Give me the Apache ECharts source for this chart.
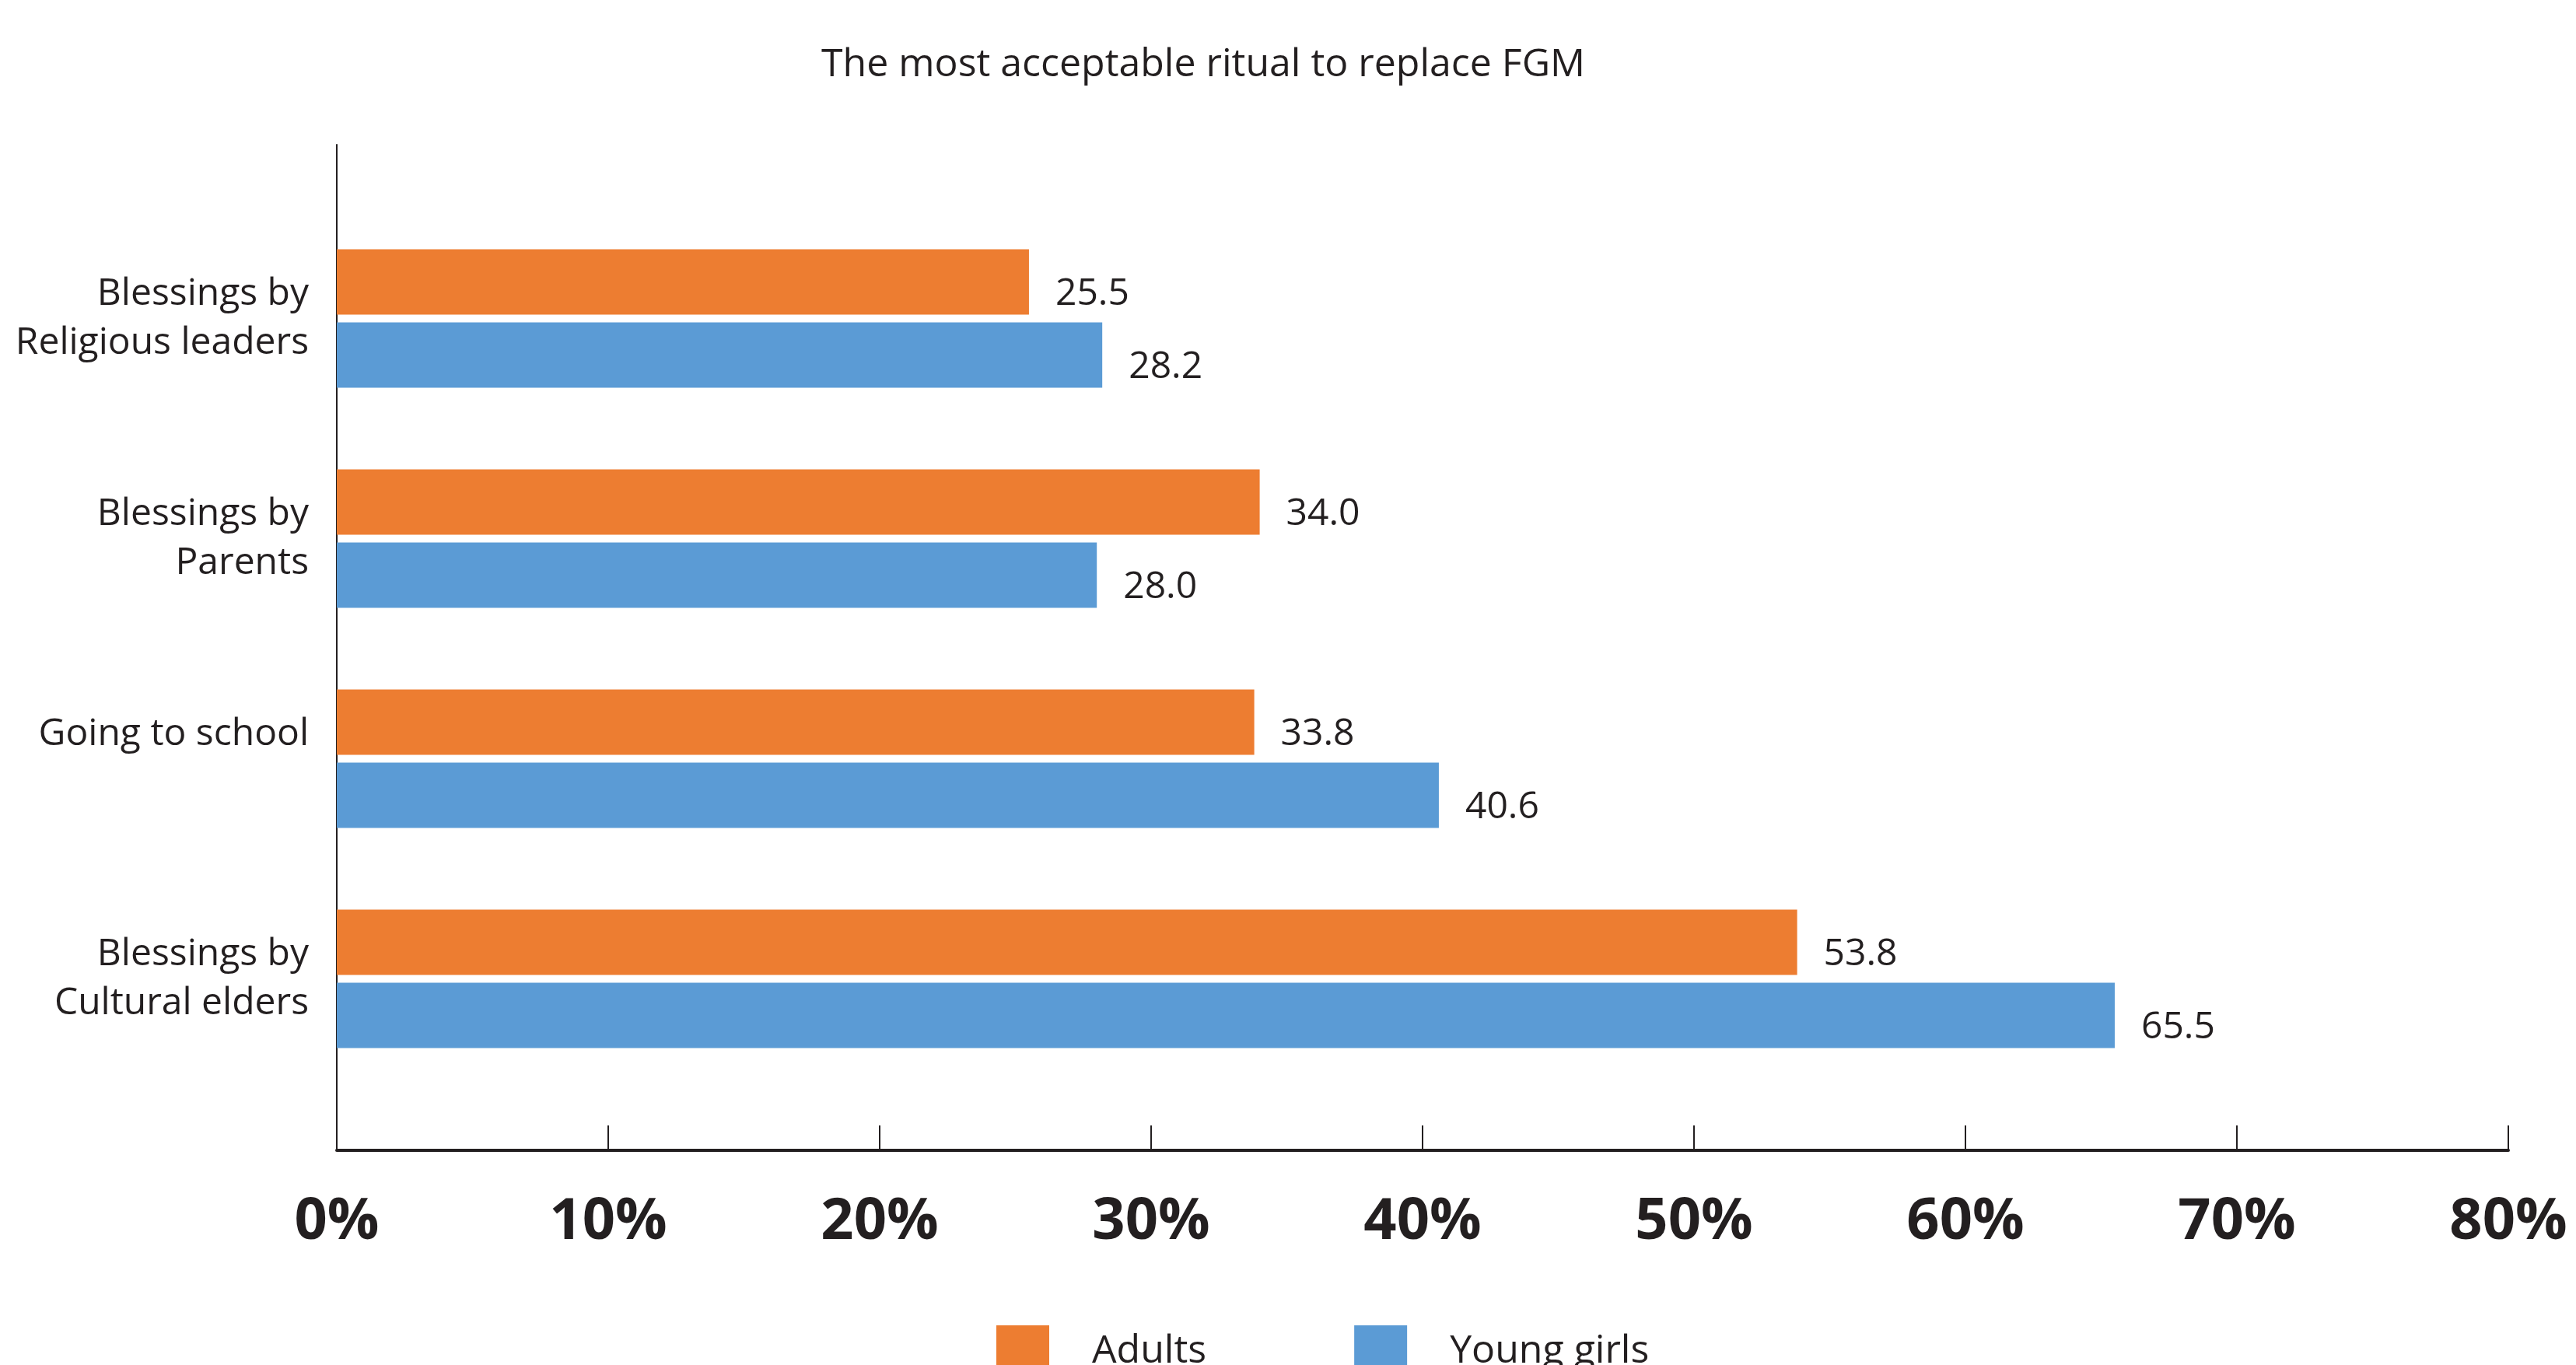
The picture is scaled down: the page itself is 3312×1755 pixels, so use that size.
<!DOCTYPE html>
<html>
<head>
<meta charset="utf-8">
<script src="https://cdn.jsdelivr.net/npm/echarts@6/dist/echarts.min.js"></script>
<style>html,body{margin:0;padding:0;background:#fff;}#c{width:3312px;height:1755px;}</style>
</head>
<body>
<div id="c"></div>
<script>
const titleText = 'The most acceptable ritual to replace FGM';
const categories = ['Blessings by\nReligious leaders', 'Blessings by\nParents', 'Going to school', 'Blessings by\nCultural elders'];
const seriesNames = ['Adults', 'Young girls'];
const adults = [25.5, 34.0, 33.8, 53.8];
const youngGirls = [28.2, 28.0, 40.6, 65.5];
const xTicks = [0, 10, 20, 30, 40, 50, 60, 70, 80];

const ink = '#231f20';
const font = '"Open Sans", "Noto Sans", sans-serif';
const chart = echarts.init(document.getElementById('c'), null, {renderer: 'canvas'});
const labelStyle = {
  show: true, position: 'right', distance: 34, offset: [0, 16],
  color: ink, fontFamily: font, fontSize: 48,
  formatter: p => p.value.toFixed(1)
};
chart.setOption({
  backgroundColor: '#fff',
  animation: false,
  title: {
    text: titleText, left: 1542, top: 54, textAlign: 'center',
    textStyle: {color: ink, fontFamily: font, fontSize: 50, fontWeight: 'normal'}
  },
  legend: {
    data: seriesNames, left: 1276, top: 1699, itemWidth: 68, itemHeight: 68, itemGap: 190,
    icon: 'rect',
    textStyle: {color: ink, fontFamily: font, fontSize: 50, padding: [0, 0, 0, 50]}
  },
  grid: [
    {left: 433, right: 87, top: 186, bottom: 276},
    {left: 433, right: 87, top: 268, height: 1132}
  ],
  xAxis: [
    {
      gridIndex: 0, type: 'value', min: xTicks[0], max: xTicks[xTicks.length - 1], interval: 10,
      axisLine: {show: true, lineStyle: {color: ink, width: 4}},
      axisTick: {show: true, inside: true, length: 32, lineStyle: {color: ink, width: 2}},
      splitLine: {show: false},
      axisLabel: {
        margin: 56, color: ink, fontFamily: font, fontSize: 74, fontWeight: 'bold',
        formatter: v => v + '%'
      }
    },
    {gridIndex: 1, type: 'value', min: 0, max: 80, show: false}
  ],
  yAxis: [
    {
      gridIndex: 0, type: 'value', min: 0, max: 1,
      axisLine: {show: true, lineStyle: {color: ink, width: 2}},
      axisTick: {show: false}, axisLabel: {show: false}, splitLine: {show: false}
    },
    {
      gridIndex: 1, type: 'category', data: categories, inverse: true,
      axisLine: {show: false}, axisTick: {show: false},
      axisLabel: {
        margin: 36, color: ink, fontFamily: font, fontSize: 48, lineHeight: 63, align: 'right',
        padding: [12, 0, 0, 0],
        formatter: v => v.indexOf('\n') < 0 ? v + '\n ' : v
      }
    }
  ],
  series: [
    {
      name: seriesNames[0], type: 'bar', xAxisIndex: 1, yAxisIndex: 1, data: adults,
      barWidth: 84, barGap: '12%', itemStyle: {color: '#ED7D31'}, label: labelStyle
    },
    {
      name: seriesNames[1], type: 'bar', xAxisIndex: 1, yAxisIndex: 1, data: youngGirls,
      barWidth: 84, barGap: '12%', itemStyle: {color: '#5B9BD5'}, label: labelStyle
    }
  ]
});
</script>
</body>
</html>
